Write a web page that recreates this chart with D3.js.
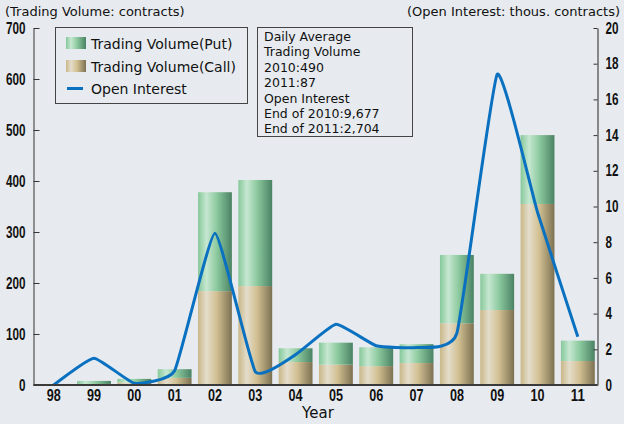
<!DOCTYPE html>
<html>
<head>
<meta charset="utf-8">
<script src="https://cdn.jsdelivr.net/npm/d3@7"></script>
<style>
  body { margin: 0; background: #e7ebef; }
  svg { display: block; }
  text.num { font-family: "Liberation Sans", Arial, sans-serif; font-weight: bold; font-size: 16px; fill: #111; }
  .txt { font-family: "DejaVu Sans", sans-serif; fill: #111; }
</style>
</head>
<body>
<div id="chart-area"></div>
<script>
// data
const years = ["98", "99", "00", "01", "02", "03", "04", "05", "06", "07", "08", "09", "10", "11"];
const callVolume = [1, 2, 5, 14, 184, 194, 45, 40, 37, 43, 121, 147, 355, 47];
const putVolume = [1, 6, 7, 17, 194, 208, 27, 43, 37, 37, 134, 71, 135, 40];
const openInterest = [0, 1.5, 0.1, 0.8, 8.5, 0.75, 1.7, 3.4, 2.2, 2.1, 2.9, 17.4, 9.677, 2.704];
const leftTicks = [0, 100, 200, 300, 400, 500, 600, 700];
const rightTicks = [0, 2, 4, 6, 8, 10, 12, 14, 16, 18, 20];
const noteLines = [
  "Daily Average",
  "Trading Volume",
  "2010:490",
  "2011:87",
  "Open Interest",
  "End of 2010:9,677",
  "End of 2011:2,704"
];

const width = 624,
  height = 424;
const plot = { left: 33.5, right: 597.5, top: 28, bottom: 385 };

const svg = d3
  .select("#chart-area")
  .append("svg")
  .attr("width", width)
  .attr("height", height);

// gradients for the bars
const defs = svg.append("defs");
function addGradient(id, stops) {
  const grad = defs
    .append("linearGradient")
    .attr("id", id)
    .attr("x1", "0%")
    .attr("x2", "100%")
    .attr("y1", "0%")
    .attr("y2", "0%");
  stops.forEach(s =>
    grad.append("stop").attr("offset", s[0]).attr("stop-color", s[1])
  );
}
addGradient("putGrad", [
  ["0%", "#86c89a"],
  ["25%", "#c6e7d1"],
  ["55%", "#8dca9f"],
  ["100%", "#4a8264"]
]);
addGradient("callGrad", [
  ["0%", "#c9b788"],
  ["25%", "#e4ddcb"],
  ["55%", "#d2c092"],
  ["100%", "#7c7152"]
]);

svg
  .append("rect")
  .attr("width", width)
  .attr("height", height)
  .attr("fill", "#e7ebef");

// Scales
const xScale = d3
  .scaleBand()
  .domain(years)
  .range([plot.left, 598])
  .paddingInner(0.16)
  .paddingOuter(0.08);
const yScale = d3.scaleLinear().domain([0, 700]).range([plot.bottom, plot.top]);
const y2Scale = d3.scaleLinear().domain([0, 20]).range([plot.bottom, plot.top]);

const data = years.map((y, i) => ({
  year: y,
  call: callVolume[i],
  put: putVolume[i],
  oi: openInterest[i]
}));

// bars
const bars = svg.append("g");
bars
  .selectAll("rect.call")
  .data(data)
  .enter()
  .append("rect")
  .attr("class", "call")
  .attr("x", d => xScale(d.year))
  .attr("width", xScale.bandwidth())
  .attr("y", d => yScale(d.call))
  .attr("height", d => yScale(0) - yScale(d.call))
  .attr("fill", "url(#callGrad)");
bars
  .selectAll("rect.put")
  .data(data)
  .enter()
  .append("rect")
  .attr("class", "put")
  .attr("x", d => xScale(d.year))
  .attr("width", xScale.bandwidth())
  .attr("y", d => yScale(d.call + d.put))
  .attr("height", d => yScale(d.call) - yScale(d.call + d.put))
  .attr("fill", "url(#putGrad)");

// open interest line
const line = d3
  .line()
  .x(d => xScale(d.year) + xScale.bandwidth() / 2)
  .y(d => y2Scale(d.oi))
  .curve(d3.curveCardinal.tension(0.6));

svg
  .append("path")
  .datum(data)
  .attr("d", line)
  .attr("fill", "none")
  .attr("stroke", "#0a70c0")
  .attr("stroke-width", 3)
  .attr("stroke-linejoin", "round");

// squeeze the bold digits so they look condensed
function condense(sel, perChar) {
  sel
    .attr("class", "num")
    .attr("lengthAdjust", "spacingAndGlyphs")
    .attr("textLength", function() {
      return this.textContent.length * perChar;
    });
}

// left axis
const yAxisGroup = svg
  .append("g")
  .attr("transform", `translate(${plot.left},0)`)
  .call(
    d3
      .axisLeft(yScale)
      .tickValues(leftTicks)
      .tickSizeInner(-6)
      .tickSizeOuter(0)
      .tickPadding(8)
  );
yAxisGroup.selectAll("text").call(condense, 6.5);
yAxisGroup.selectAll("line, path").attr("stroke", "#333");

// right axis
const y2AxisGroup = svg
  .append("g")
  .attr("transform", `translate(${plot.right},0)`)
  .call(
    d3
      .axisRight(y2Scale)
      .tickValues(rightTicks)
      .tickSizeInner(-4)
      .tickSizeOuter(0)
      .tickPadding(8)
  );
y2AxisGroup.selectAll("text").call(condense, 6.5);
y2AxisGroup.selectAll("line").attr("stroke", "#333");
y2AxisGroup.select("path").attr("stroke", "#666").attr("stroke-width", 1.5);

// x axis
const xAxisGroup = svg
  .append("g")
  .attr("transform", `translate(0,${plot.bottom})`)
  .call(d3.axisBottom(xScale).tickSize(0).tickPadding(5));
xAxisGroup.select("path").remove();
xAxisGroup.selectAll("text").call(condense, 7);

svg
  .append("line")
  .attr("x1", plot.left)
  .attr("x2", plot.right)
  .attr("y1", plot.bottom)
  .attr("y2", plot.bottom)
  .attr("stroke", "#3a3a3a")
  .attr("stroke-width", 2);

// axis titles
svg
  .append("text")
  .attr("class", "txt")
  .attr("x", 5)
  .attr("y", 16)
  .attr("font-size", "13px")
  .text("(Trading Volume: contracts)");
svg
  .append("text")
  .attr("class", "txt")
  .attr("x", 620)
  .attr("y", 16)
  .attr("font-size", "13px")
  .attr("text-anchor", "end")
  .text("(Open Interest: thous. contracts)");
svg
  .append("text")
  .attr("class", "txt")
  .attr("x", 318)
  .attr("y", 418)
  .attr("font-size", "15px")
  .attr("text-anchor", "middle")
  .text("Year");

// legend
const legend = svg.append("g");
legend
  .append("rect")
  .attr("x", 55.5)
  .attr("y", 27.5)
  .attr("width", 192)
  .attr("height", 76)
  .attr("fill", "none")
  .attr("stroke", "#444");
legend
  .append("rect")
  .attr("x", 66)
  .attr("y", 37)
  .attr("width", 20)
  .attr("height", 12)
  .attr("fill", "url(#putGrad)");
legend
  .append("rect")
  .attr("x", 66)
  .attr("y", 60)
  .attr("width", 20)
  .attr("height", 12)
  .attr("fill", "url(#callGrad)");
legend
  .append("line")
  .attr("x1", 67)
  .attr("x2", 83)
  .attr("y1", 88.5)
  .attr("y2", 88.5)
  .attr("stroke", "#0a70c0")
  .attr("stroke-width", 3);
[
  ["Trading Volume(Put)", 48.5],
  ["Trading Volume(Call)", 72],
  ["Open Interest", 94]
].forEach(d =>
  legend
    .append("text")
    .attr("class", "txt")
    .attr("x", 91)
    .attr("y", d[1])
    .attr("font-size", "14px")
    .text(d[0])
);

// note box
const note = svg.append("g");
note
  .append("rect")
  .attr("x", 257.5)
  .attr("y", 27.5)
  .attr("width", 155)
  .attr("height", 109)
  .attr("fill", "none")
  .attr("stroke", "#444");
note
  .selectAll("text")
  .data(noteLines)
  .enter()
  .append("text")
  .attr("class", "txt")
  .attr("x", 264)
  .attr("y", (d, i) => 41 + i * 15.4)
  .attr("font-size", "12.5px")
  .text(d => d);
</script>
</body>
</html>
